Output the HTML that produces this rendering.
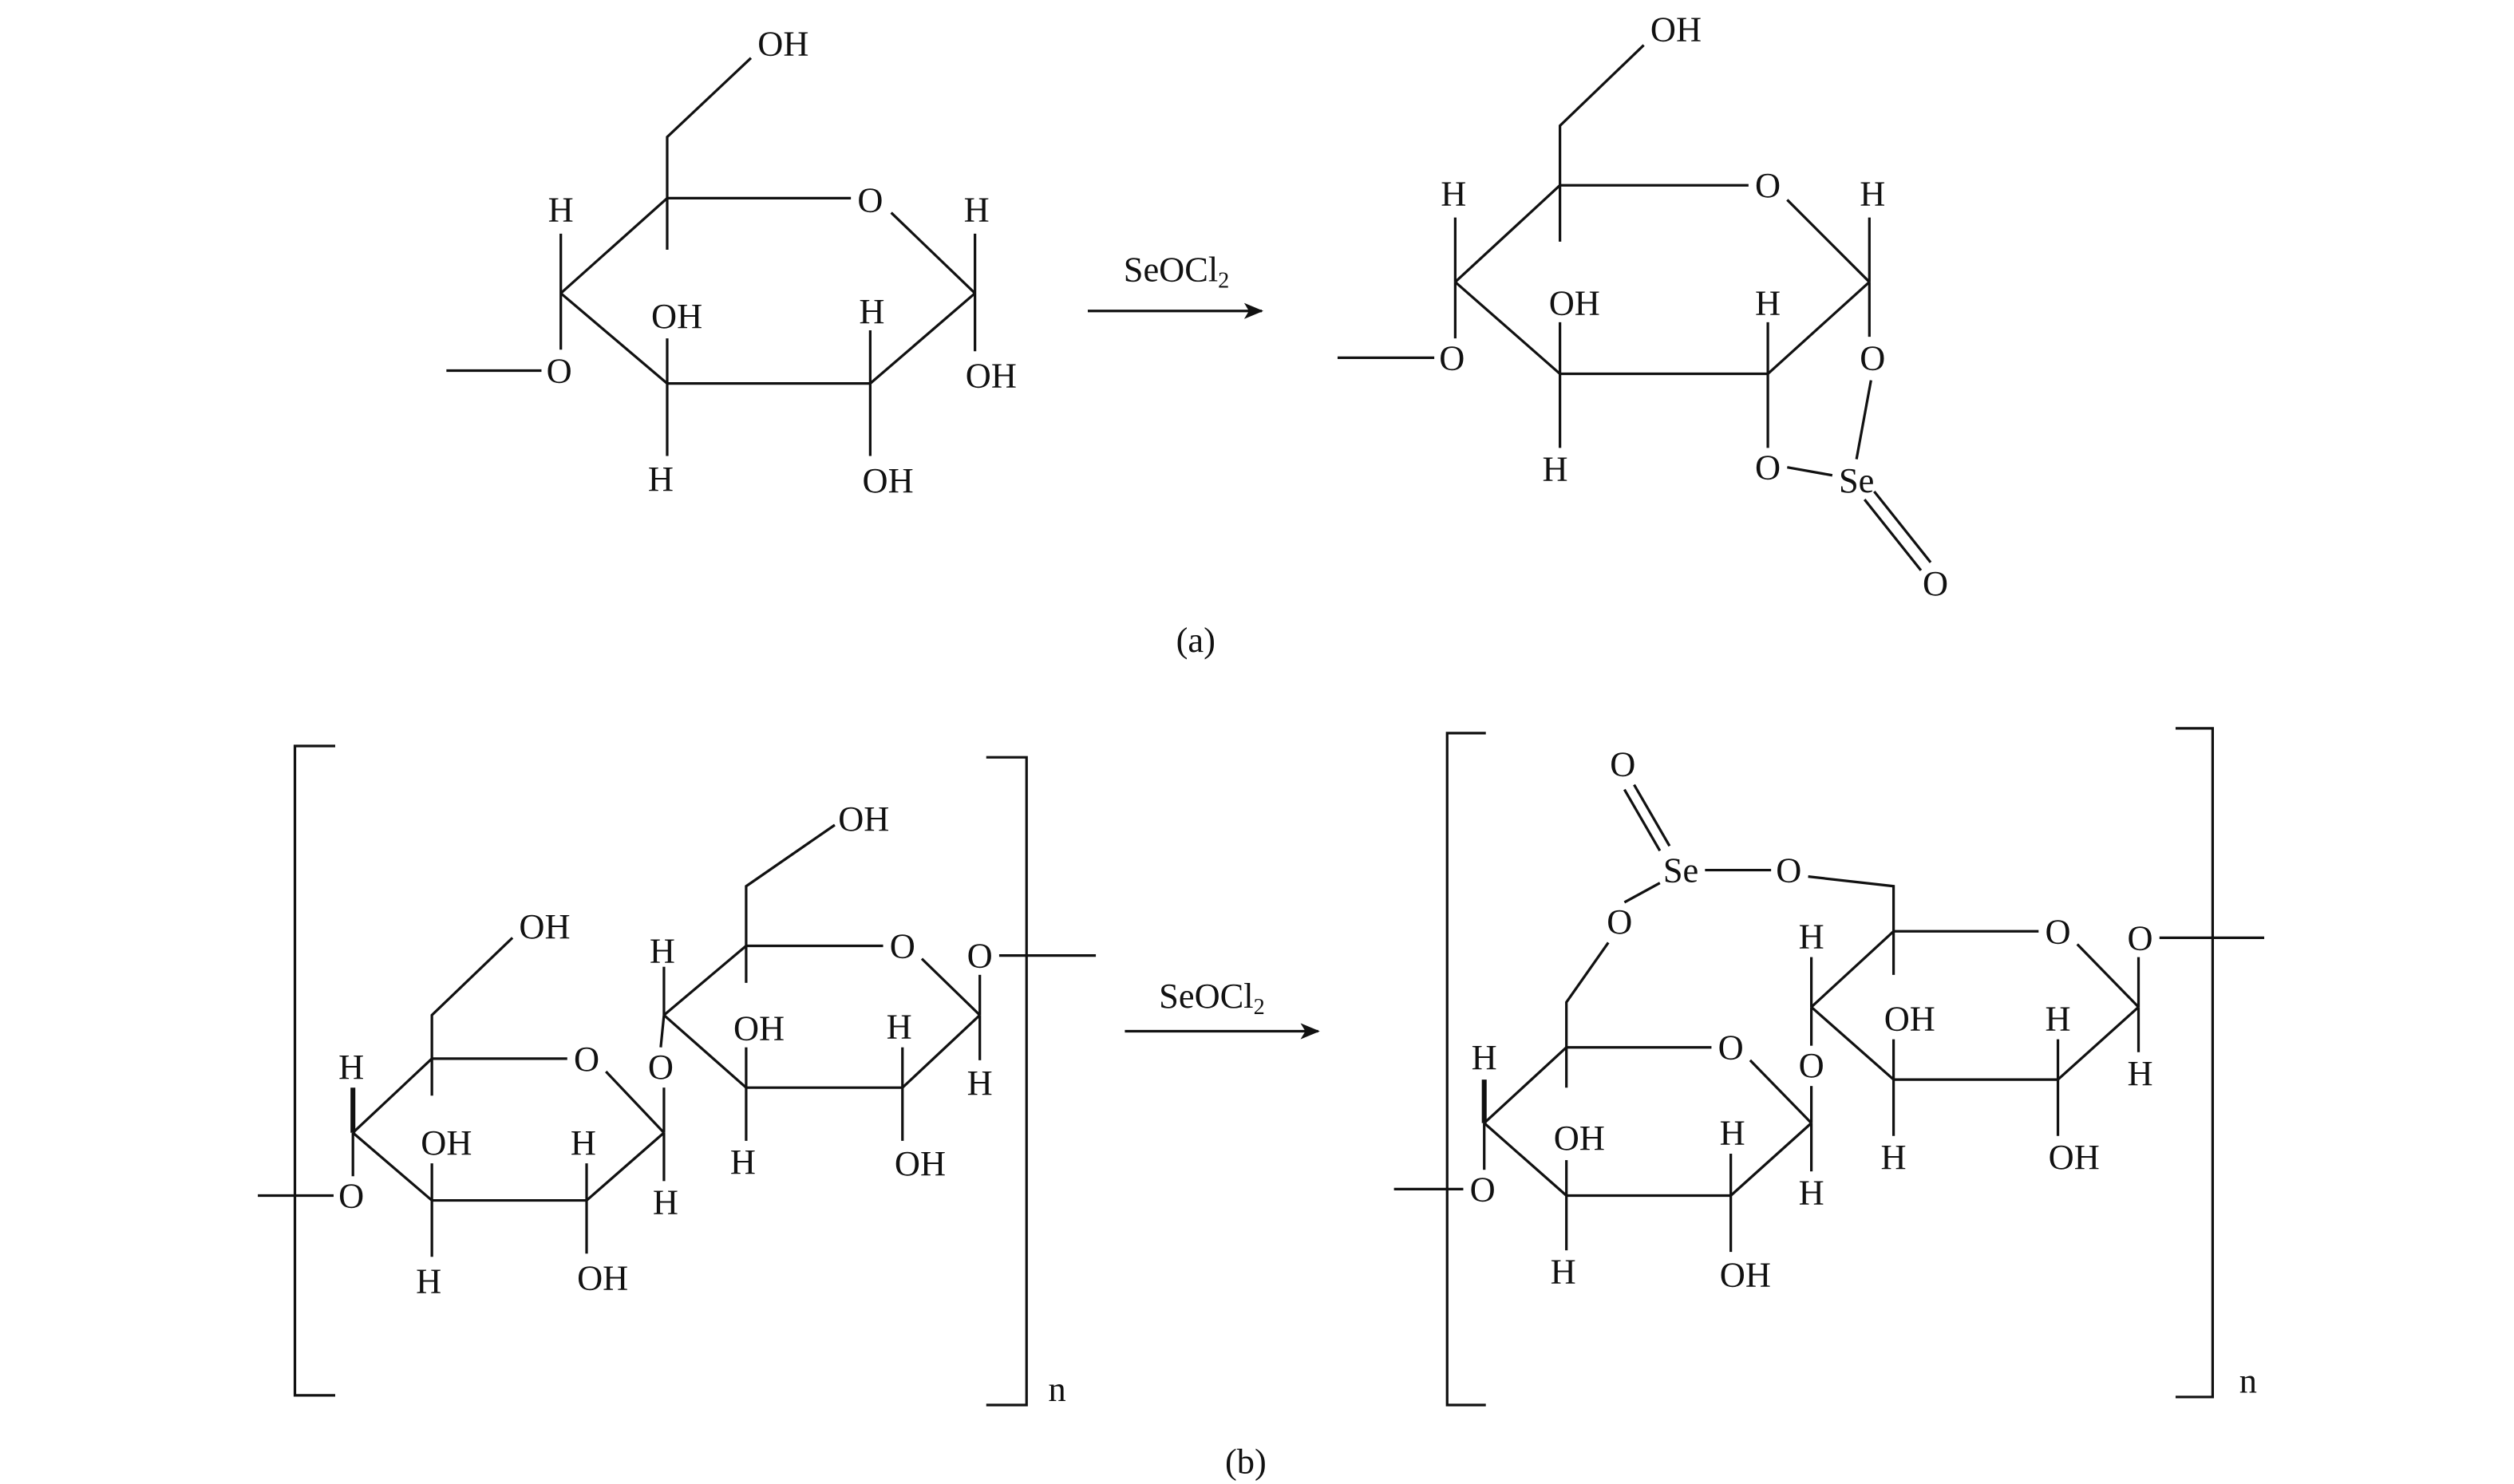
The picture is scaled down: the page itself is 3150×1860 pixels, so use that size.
<!DOCTYPE html>
<html><head><meta charset="utf-8"><style>
html,body{margin:0;padding:0;background:#fff;}
svg{display:block;}
text{font-family:"Liberation Serif",serif;font-size:22px;fill:#111;text-anchor:middle;dominant-baseline:central;}
.sm{font-size:14px;}
line,polyline{stroke:#111;stroke-width:1.6;fill:none;}
</style></head><body>
<svg width="3150" height="1860" viewBox="0 0 1560 921" preserveAspectRatio="none" xmlns="http://www.w3.org/2000/svg">
<defs><marker id="ar" markerWidth="12" markerHeight="10" refX="11" refY="5" orient="auto" markerUnits="userSpaceOnUse"><path d="M0,0 L12,5 L0,10 L3,5 z" fill="#111"/></marker></defs>

<!-- (a) left -->
<line x1="414" y1="123" x2="528" y2="123"/><line x1="553" y1="132" x2="605" y2="182"/>
<line x1="605" y1="182" x2="540" y2="238"/><line x1="540" y1="238" x2="414" y2="238"/>
<line x1="414" y1="238" x2="348" y2="182"/><line x1="348" y1="182" x2="414" y2="123"/>
<polyline points="414,155 414,85 466,36"/>
<line x1="348" y1="182" x2="348" y2="145"/><line x1="348" y1="182" x2="348" y2="217"/>
<line x1="277" y1="230" x2="336" y2="230"/>
<line x1="414" y1="238" x2="414" y2="210"/><line x1="414" y1="238" x2="414" y2="283"/>
<line x1="540" y1="238" x2="540" y2="205"/><line x1="540" y1="238" x2="540" y2="283"/>
<line x1="605" y1="182" x2="605" y2="145"/><line x1="605" y1="182" x2="605" y2="218"/>
<text x="486" y="27">OH</text><text x="540" y="124">O</text><text x="348" y="130">H</text><text x="606" y="130">H</text>
<text x="347" y="230">O</text><text x="420" y="196">OH</text><text x="541" y="193">H</text>
<text x="615" y="233">OH</text><text x="410" y="297">H</text><text x="551" y="298">OH</text>

<line x1="675" y1="193" x2="783" y2="193" marker-end="url(#ar)"/>
<text x="730" y="167">SeOCl<tspan class="sm" dy="7">2</tspan></text>

<!-- (a) right -->
<line x1="968" y1="115" x2="1085" y2="115"/><line x1="1109" y1="124" x2="1160" y2="175"/>
<line x1="1160" y1="175" x2="1097" y2="232"/><line x1="1097" y1="232" x2="968" y2="232"/>
<line x1="968" y1="232" x2="903" y2="175"/><line x1="903" y1="175" x2="968" y2="115"/>
<polyline points="968,150 968,78 1020,28"/>
<line x1="903" y1="175" x2="903" y2="135"/><line x1="903" y1="175" x2="903" y2="210"/>
<line x1="830" y1="222" x2="890" y2="222"/>
<line x1="968" y1="232" x2="968" y2="200"/><line x1="968" y1="232" x2="968" y2="278"/>
<line x1="1097" y1="232" x2="1097" y2="200"/><line x1="1097" y1="232" x2="1097" y2="278"/>
<line x1="1160" y1="175" x2="1160" y2="135"/><line x1="1160" y1="175" x2="1160" y2="209"/>
<line x1="1109" y1="290" x2="1137" y2="295"/><line x1="1161" y1="236" x2="1152" y2="285"/>
<line x1="1157" y1="310" x2="1192" y2="354"/><line x1="1163" y1="305" x2="1198" y2="349"/>
<text x="1040" y="18">OH</text><text x="1097" y="115">O</text><text x="902" y="120">H</text><text x="1162" y="120">H</text>
<text x="901" y="222">O</text><text x="977" y="188">OH</text><text x="1097" y="188">H</text>
<text x="1162" y="222">O</text><text x="965" y="291">H</text><text x="1097" y="290">O</text>
<text x="1152" y="298">Se</text><text x="1201" y="362">O</text>
<text x="742" y="397">(a)</text>

<!-- (b) left -->
<polyline points="208,463 183,463 183,866 208,866"/><polyline points="612,470 637,470 637,872 612,872"/>
<text x="656" y="862">n</text>
<line x1="268" y1="657" x2="352" y2="657"/><line x1="376" y1="665" x2="412" y2="703"/>
<line x1="412" y1="703" x2="364" y2="745"/><line x1="364" y1="745" x2="268" y2="745"/>
<line x1="268" y1="745" x2="219" y2="703"/><line x1="219" y1="703" x2="268" y2="657"/>
<polyline points="268,680 268,630 318,582"/>
<line x1="219" y1="703" x2="219" y2="675" style="stroke-width:3"/><line x1="219" y1="703" x2="219" y2="730"/>
<line x1="160" y1="742" x2="207" y2="742"/>
<line x1="268" y1="745" x2="268" y2="722"/><line x1="268" y1="745" x2="268" y2="780"/>
<line x1="364" y1="745" x2="364" y2="722"/><line x1="364" y1="745" x2="364" y2="778"/>
<line x1="412" y1="703" x2="412" y2="675"/><line x1="412" y1="703" x2="412" y2="733"/>
<line x1="410" y1="650" x2="412" y2="630"/>
<line x1="412" y1="630" x2="463" y2="587"/><line x1="463" y1="587" x2="548" y2="587"/>
<line x1="572" y1="595" x2="608" y2="630"/><line x1="608" y1="630" x2="560" y2="675"/>
<line x1="560" y1="675" x2="463" y2="675"/><line x1="463" y1="675" x2="412" y2="630"/>
<line x1="412" y1="630" x2="412" y2="600"/>
<polyline points="463,610 463,550 518,512"/>
<line x1="463" y1="675" x2="463" y2="650"/><line x1="463" y1="675" x2="463" y2="708"/>
<line x1="560" y1="675" x2="560" y2="650"/><line x1="560" y1="675" x2="560" y2="708"/>
<line x1="608" y1="630" x2="608" y2="605"/><line x1="608" y1="630" x2="608" y2="658"/>
<line x1="620" y1="593" x2="680" y2="593"/>
<text x="338" y="575">OH</text><text x="364" y="657">O</text><text x="218" y="662">H</text>
<text x="218" y="742">O</text><text x="277" y="709">OH</text><text x="362" y="709">H</text>
<text x="266" y="795">H</text><text x="374" y="793">OH</text><text x="410" y="662">O</text><text x="413" y="746">H</text>
<text x="411" y="590">H</text><text x="536" y="508">OH</text><text x="560" y="587">O</text>
<text x="471" y="638">OH</text><text x="461" y="721">H</text><text x="558" y="637">H</text>
<text x="571" y="722">OH</text><text x="608" y="593">O</text><text x="608" y="672">H</text>

<line x1="698" y1="640" x2="818" y2="640" marker-end="url(#ar)"/>
<text x="752" y="618">SeOCl<tspan class="sm" dy="7">2</tspan></text>

<!-- (b) right -->
<polyline points="922,455 898,455 898,872 922,872"/><polyline points="1350,452 1373,452 1373,867 1350,867"/>
<text x="1395" y="857">n</text>
<line x1="972" y1="650" x2="1062" y2="650"/><line x1="1086" y1="658" x2="1124" y2="697"/>
<line x1="1124" y1="697" x2="1074" y2="742"/><line x1="1074" y1="742" x2="972" y2="742"/>
<line x1="972" y1="742" x2="921" y2="697"/><line x1="921" y1="697" x2="972" y2="650"/>
<polyline points="972,675 972,622 998,585"/>
<line x1="1008" y1="560" x2="1030" y2="548"/>
<line x1="1030" y1="528" x2="1008" y2="490"/><line x1="1036" y1="525" x2="1014" y2="487"/>
<line x1="1058" y1="540" x2="1099" y2="540"/>
<polyline points="1122,544 1175,550 1175,605"/>
<line x1="921" y1="697" x2="921" y2="670" style="stroke-width:3"/><line x1="921" y1="697" x2="921" y2="726"/>
<line x1="865" y1="738" x2="908" y2="738"/>
<line x1="972" y1="742" x2="972" y2="720"/><line x1="972" y1="742" x2="972" y2="776"/>
<line x1="1074" y1="742" x2="1074" y2="716"/><line x1="1074" y1="742" x2="1074" y2="777"/>
<line x1="1124" y1="697" x2="1124" y2="674"/><line x1="1124" y1="697" x2="1124" y2="727"/>
<line x1="1124" y1="649" x2="1124" y2="625"/>
<line x1="1124" y1="625" x2="1175" y2="578"/><line x1="1175" y1="578" x2="1265" y2="578"/>
<line x1="1289" y1="586" x2="1327" y2="625"/><line x1="1327" y1="625" x2="1277" y2="670"/>
<line x1="1277" y1="670" x2="1175" y2="670"/><line x1="1175" y1="670" x2="1124" y2="625"/>
<line x1="1124" y1="625" x2="1124" y2="594"/>
<line x1="1175" y1="670" x2="1175" y2="645"/><line x1="1175" y1="670" x2="1175" y2="705"/>
<line x1="1277" y1="670" x2="1277" y2="645"/><line x1="1277" y1="670" x2="1277" y2="705"/>
<line x1="1327" y1="625" x2="1327" y2="594"/><line x1="1327" y1="625" x2="1327" y2="653"/>
<line x1="1340" y1="582" x2="1405" y2="582"/>
<text x="1007" y="474">O</text><text x="1043" y="540">Se</text><text x="1110" y="540">O</text>
<text x="1005" y="572">O</text><text x="1074" y="650">O</text><text x="921" y="656">H</text>
<text x="920" y="738">O</text><text x="980" y="706">OH</text><text x="1075" y="703">H</text>
<text x="970" y="789">H</text><text x="1083" y="791">OH</text><text x="1124" y="661">O</text>
<text x="1124" y="740">H</text><text x="1124" y="581">H</text><text x="1277" y="578">O</text>
<text x="1185" y="632">OH</text><text x="1175" y="718">H</text><text x="1277" y="632">H</text>
<text x="1287" y="718">OH</text><text x="1328" y="582">O</text><text x="1328" y="666">H</text>
<text x="773" y="907">(b)</text>
</svg>
</body></html>
